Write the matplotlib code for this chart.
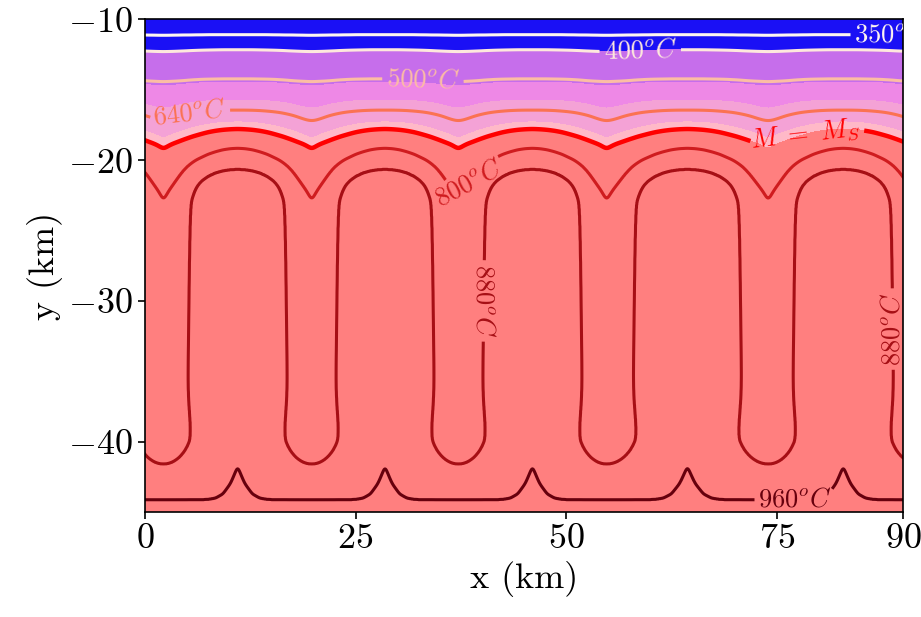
import numpy as np
import matplotlib
matplotlib.use("Agg")
import matplotlib.pyplot as plt
from matplotlib.colors import Normalize

plt.rcParams["font.family"] = "serif"
plt.rcParams["font.serif"] = ["cmr10"]
plt.rcParams["mathtext.fontset"] = "cm"
plt.rcParams["axes.formatter.use_mathtext"] = True

# ─── plume layout (km): 1 = upwelling axis, 0 = downwelling axis ───
CENTERS_X  = [-6.6, 2.2, 11.0, 19.8, 28.5, 37.2, 46.0, 54.8, 64.4, 74.0, 82.9, 91.8, 100.6]
CENTERS_PH = [1, 0, 1, 0, 1, 0, 1, 0, 1, 0, 1, 0, 1]

# ─── isotherm depth (km) against plume phase ───────────────────────
PHASE = [0, .04, .08, .12, .16, .20, .25, .30, .32, .335, .34, .345,
         .355, .37, .39, .42, .46, .52, .60, .70, .80, .90, 1.0]
Y_350 = [-11.12, -11.12, -11.12, -11.11, -11.11, -11.11, -11.10, -11.10, -11.10, -11.10, -11.10, -11.10,
         -11.10, -11.10, -11.10, -11.09, -11.09, -11.09, -11.08, -11.08, -11.08, -11.08, -11.08]
Y_400 = [-12.28, -12.28, -12.27, -12.27, -12.26, -12.25, -12.24, -12.23, -12.22, -12.22, -12.22, -12.22,
         -12.21, -12.21, -12.20, -12.20, -12.19, -12.18, -12.17, -12.16, -12.15, -12.15, -12.15]
Y_500 = [-14.42, -14.41, -14.40, -14.39, -14.38, -14.37, -14.35, -14.33, -14.32, -14.31, -14.31, -14.31,
         -14.30, -14.30, -14.29, -14.28, -14.27, -14.25, -14.24, -14.23, -14.22, -14.22, -14.22]
Y_640 = [-17.20, -17.17, -17.12, -17.05, -16.98, -16.90, -16.82, -16.75, -16.73, -16.71, -16.70, -16.70,
         -16.69, -16.67, -16.65, -16.62, -16.59, -16.55, -16.51, -16.47, -16.45, -16.44, -16.44]
Y_MS  = [-19.20, -19.06, -18.94, -18.84, -18.76, -18.68, -18.58, -18.48, -18.45, -18.42, -18.41, -18.40,
         -18.38, -18.35, -18.32, -18.27, -18.21, -18.12, -18.01, -17.91, -17.84, -17.80, -17.78]
Y_800 = [-22.85, -22.45, -22.10, -21.80, -21.50, -21.20, -20.85, -20.55, -20.45, -20.38, -20.36, -20.34,
         -20.30, -20.24, -20.16, -20.05, -19.93, -19.78, -19.58, -19.40, -19.26, -19.18, -19.15]
Y_880 = [-41.60, -41.58, -41.52, -41.41, -41.25, -41.03, -40.64, -40.02, -39.63, -39.00, -31.50, -24.30,
         -23.50, -23.00, -22.65, -22.20, -21.80, -21.45, -21.15, -20.90, -20.75, -20.67, -20.64]
Y_960 = [-44.13, -44.13, -44.13, -44.13, -44.13, -44.13, -44.13, -44.13, -44.13, -44.13, -44.13, -44.13,
         -44.13, -44.13, -44.13, -44.13, -44.13, -44.13, -44.11, -44.02, -43.72, -42.98, -41.78]

ISO_T      = [350, 400, 500, 640, 720, 800, 880, 960]
ISO_Y      = [Y_350, Y_400, Y_500, Y_640, Y_MS, Y_800, Y_880, Y_960]
ISO_SMOOTH = [0.3, 0.3, 0.3, 0.3, 0.25, 0.2, 0.12, 0.15]   # km
T_TOP, T_BOT = 278, 1000
Y_TOP, Y_BOT = -9.5, -45.5

# plume heads spread near the base: cold cups widen there
HEAD_Y, HEAD_W, HEAD_WIDEN = -39.8, 1.8, 0.22

# ─── plotting choices ──────────────────────────────────────────────
LINE_LEVELS = [350, 400, 500, 640, 800, 880, 960]
MS_LEVEL    = 720
FILL_LEVELS = [0, 400, 515, 595, 690, 720, 2000]
FILL_COLORS = ["#1a10f5", "#c66eeb", "#ee88e6", "#f4a2d6", "#ffb9c8", "#ff7f7f"]
FMT = {350: r"$350^oC$", 400: r"$400^oC$", 500: r"$500^oC$", 640: r"$640^oC$",
       800: r"$800^oC$", 880: r"$880^oC$", 960: r"$960^oC$"}
LABEL_POS = [(88.6, -11.1), (58.8, -12.2), (33.0, -14.3), (5.3, -16.7),
             (38.3, -21.6), (40.2, -30.0), (88.8, -32.0), (77.2, -44.1)]
MS_POS    = [(78.5, -18.3)]

# ─── build temperature field ───────────────────────────────────────
DX, DY = 0.04, 0.025
x = np.arange(-1.0, 91.0 + DX, DX)
y = np.arange(Y_BOT, Y_TOP + DY, DY)
ph = np.interp(x, CENTERS_X, CENTERS_PH)

def smooth(arr, sigma_km):
    n = max(1, int(round(3 * sigma_km / DX)))
    k = np.exp(-0.5 * (np.arange(-n, n + 1) * DX / sigma_km) ** 2)
    k /= k.sum()
    pad = np.pad(arr, n, mode="edge")
    return np.convolve(pad, k, mode="valid")

depths = [smooth(np.interp(ph, PHASE, yy), s) for yy, s in zip(ISO_Y, ISO_SMOOTH)]
temps = np.array([T_TOP] + ISO_T + [T_BOT], dtype=float)

T0 = np.empty((len(y), len(x)))
for j in range(len(x)):
    yk = np.array([Y_TOP] + [d[j] for d in depths] + [Y_BOT])
    T0[:, j] = np.interp(-y, -yk, temps)

# warp phase row by row so the cups bulge a little near their base
cx = np.array(CENTERS_X)
kk = np.clip(np.searchsorted(cx, x) - 1, 0, len(cx) - 2)
span = cx[kk + 1] - cx[kk]
sgn = np.array(CENTERS_PH)[kk + 1] - np.array(CENTERS_PH)[kk]
T = np.empty_like(T0)
for i, yy in enumerate(y):
    b = HEAD_WIDEN * np.exp(-0.5 * ((yy - HEAD_Y) / HEAD_W) ** 2)
    p_eff = ph - b * ph * (1 - ph)
    x_eff = x + (p_eff - ph) * span * sgn
    T[i] = np.interp(x_eff, x, T0[i])

# ─── figure ────────────────────────────────────────────────────────
fig = plt.figure(figsize=(9.21, 6.17), dpi=100)
ax = fig.add_axes([0.1574, 0.1702, 0.8231, 0.7982])
ax.set_xlim(0, 90)
ax.set_ylim(-45, -10)

ax.contourf(x, y, T, levels=FILL_LEVELS, colors=FILL_COLORS)
cs = ax.contour(x, y, T, levels=LINE_LEVELS, cmap="Reds",
                norm=Normalize(350, 960), linewidths=2.2)
cms = ax.contour(x, y, T, levels=[MS_LEVEL], colors="red", linewidths=3.2)

labels = ax.clabel(cs, fmt=FMT, manual=LABEL_POS, inline=True,
                   fontsize=19, inline_spacing=4)
ms_lab = ax.clabel(cms, fmt={MS_LEVEL: r"$M\ =\ M_S$"}, manual=MS_POS,
                   inline=True, fontsize=19, inline_spacing=4)
for t in list(labels) + list(ms_lab):
    t.set_clip_path(ax.patch)
for t in labels:
    px, py = t.get_position()
    if t.get_text() == FMT[880]:
        t.set_rotation(-90 if px < 60 else 90)
    if t.get_text() == FMT[960]:
        t.set_rotation(0)

ax.set_xticks([0, 25, 50, 75, 90])
ax.set_yticks([-10, -20, -30, -40])
ax.tick_params(labelsize=26, direction="out", length=5, width=1.2)
for sp in ax.spines.values():
    sp.set_linewidth(1.2)
ax.set_xlabel("x (km)", fontsize=26)
ax.set_ylabel("y (km)", fontsize=26)

fig.savefig("out.png", dpi=100)
